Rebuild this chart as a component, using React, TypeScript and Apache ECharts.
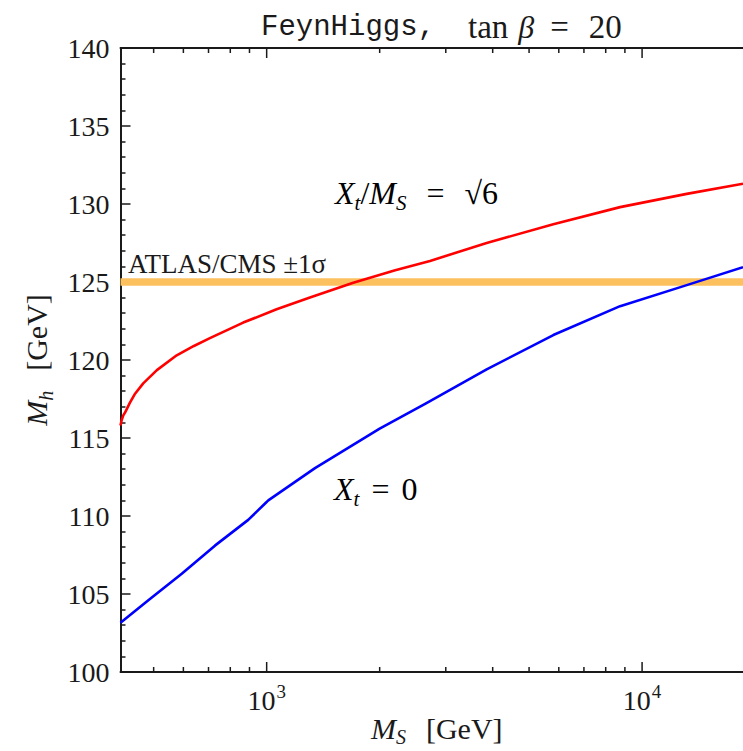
import React, { useEffect, useRef } from 'react';
import * as echarts from 'echarts';

// ---- data ----
const X_MIN = 408;
const X_MAX = 18570;
const Y_MIN = 100;
const Y_MAX = 140;
const Y_STEP = 5;

const xMajorTicks = [1000, 10000];
const xMinorTicks = [500, 600, 700, 800, 900, 2000, 3000, 4000, 5000, 6000, 7000, 8000, 9000];

// Xt/MS = sqrt(6)
const redMS = [408, 411, 415, 420, 424, 432, 445, 469, 510, 576, 640, 706, 866, 1063, 1304, 1701, 2200, 2723, 3855, 5802, 8738, 13150, 18570];
const redMh = [115.8, 116.15, 116.45, 116.65, 116.85, 117.25, 117.8, 118.5, 119.35, 120.3, 120.9, 121.4, 122.4, 123.25, 124.0, 124.95, 125.75, 126.35, 127.5, 128.7, 129.8, 130.65, 131.3];

// Xt = 0
const blueMS = [408, 484, 594, 728, 893, 995, 1010, 1345, 2000, 2650, 3855, 5802, 8738, 13150, 18570];
const blueMh = [103.15, 104.6, 106.3, 108.1, 109.75, 110.85, 111.0, 113.07, 115.6, 117.2, 119.4, 121.6, 123.45, 124.8, 125.95];

// ATLAS/CMS band
const bandCenter = 125;
const bandHalfWidth = 0.24;

// ---- styles ----
const SERIF = "'Liberation Serif', 'Times New Roman', serif";
const MONO = "'Liberation Mono', 'DejaVu Sans Mono', monospace";
const INK = '#1a1a1a';

const mathRich = (size: number, sub: number, gap: number) => ({
  i: { fontFamily: SERIF, fontStyle: 'italic', fontWeight: 'normal', fontSize: size, color: INK, lineHeight: size + 5, verticalAlign: 'top' },
  r: { fontFamily: SERIF, fontWeight: 'normal', fontSize: size, color: INK, lineHeight: size + 5, verticalAlign: 'top' },
  g: { fontFamily: SERIF, fontSize: size, lineHeight: size + 5, width: gap, verticalAlign: 'top' },
  s: {
    fontFamily: SERIF, fontStyle: 'italic', fontWeight: 'normal', fontSize: sub, color: INK,
    lineHeight: sub, padding: [size + 5 - sub - 1, 0, 0, 0], verticalAlign: 'top',
  },
});

export default function App() {
  const ref = useRef<HTMLDivElement>(null);

  useEffect(() => {
    if (!ref.current) return;
    const chart = echarts.init(ref.current, null, { renderer: 'svg' });

    const xTickData = [
      ...xMajorTicks.map((v) => [v, 1]),
      ...xMinorTicks.map((v) => [v, 0]),
    ];

    const xCommon: any = {
      type: 'log',
      logBase: 10,
      min: X_MIN,
      max: X_MAX,
      axisLine: { show: true, lineStyle: { color: INK, width: 2 } },
      axisTick: { show: false },
      minorTick: { show: false },
      splitLine: { show: false },
      minorSplitLine: { show: false },
    };

    const option: any = {
      animation: false,
      backgroundColor: '#ffffff',
      textStyle: { fontFamily: SERIF, color: INK },
      title: {
        text: '{tt|FeynHiggs,}{r|tan}{it|β}{e|=}{r|20}',
        left: 256,
        top: 4,
        textStyle: {
          fontWeight: 'normal',
          rich: {
            tt: { fontFamily: MONO, fontWeight: 'normal', fontSize: 29, color: INK, width: 207, lineHeight: 36 },
            r: { fontFamily: SERIF, fontWeight: 'normal', fontSize: 33, color: INK, lineHeight: 36 },
            it: { fontFamily: SERIF, fontWeight: 'normal', fontStyle: 'italic', fontSize: 32, color: INK, lineHeight: 36, padding: [0, 16, 0, 10] },
            e: { fontFamily: SERIF, fontWeight: 'normal', fontSize: 33, color: INK, lineHeight: 36, padding: [0, 20, 0, 0] },
          },
        },
      },
      grid: { left: 120.5, right: 0, top: 48, bottom: 79, outerBoundsMode: 'none' },
      xAxis: [
        {
          ...xCommon,
          position: 'bottom',
          axisLabel: {
            margin: 10,
            fontFamily: SERIF,
            formatter: (v: number) => {
              const e = Math.log10(v);
              const r = Math.round(e);
              return Math.abs(e - r) < 1e-6 ? `{b|10}{s|${r}}` : '';
            },
            rich: {
              b: { fontFamily: SERIF, fontSize: 28, color: INK, lineHeight: 32, verticalAlign: 'bottom' },
              s: { fontFamily: SERIF, fontSize: 19, color: INK, lineHeight: 20, padding: [0, 0, 13, 1], verticalAlign: 'bottom' },
            },
          },
          name: '{i|M}{s|S}{g| }{r|[GeV]}',
          nameLocation: 'middle',
          nameMoveOverlap: false,
          nameGap: 41,
          nameTextStyle: { padding: [0, 0, 0, 10], rich: mathRich(30, 20, 20) },
        },
        {
          ...xCommon,
          position: 'top',
          axisLabel: { show: false },
        },
      ],
      yAxis: {
        type: 'value',
        min: Y_MIN,
        max: Y_MAX,
        interval: Y_STEP,
        axisLine: { show: true, lineStyle: { color: INK, width: 2 } },
        axisTick: { show: true, inside: true, length: 10, lineStyle: { color: INK, width: 1.5 } },
        minorTick: { show: true, splitNumber: 5, length: 5, lineStyle: { color: INK, width: 1.5 } },
        splitLine: { show: false },
        minorSplitLine: { show: false },
        axisLabel: { fontFamily: SERIF, fontSize: 28, color: INK, margin: 11 },
        name: '{i|M}{s|h}{g| }{r|[GeV]}',
        nameLocation: 'middle',
        nameRotate: 90,
        nameGap: 64,
        nameTextStyle: { rich: mathRich(30, 20, 20) },
      },
      graphic: [
        {
          type: 'text',
          x: 335,
          y: 177,
          z: 20,
          style: {
            text: '{i|X}{s|t}{r|/}{i|M}{s|S}{g| }{r|=}{g| }{r|√6}',
            rich: mathRich(32, 21, 20),
          },
        },
        {
          type: 'text',
          x: 334,
          y: 473,
          z: 20,
          style: {
            text: '{i|X}{s|t}{g| }{r|=}{g| }{r|0}',
            rich: mathRich(32, 21, 12),
          },
        },
        {
          type: 'text',
          x: 128,
          y: 264,
          z: 20,
          style: {
            text: 'ATLAS/CMS ±1σ',
            fontFamily: SERIF,
            fontSize: 27,
            fill: INK,
            verticalAlign: 'middle',
          },
        },
      ],
      series: [
        {
          name: 'ATLAS/CMS ±1σ',
          type: 'line',
          data: [],
          z: 1,
          silent: true,
          markArea: {
            silent: true,
            itemStyle: { color: '#fcc05f', opacity: 1 },
            data: [[{ yAxis: bandCenter - bandHalfWidth }, { yAxis: bandCenter + bandHalfWidth }]],
          },
        },
        {
          name: 'Xt/MS = √6',
          type: 'line',
          z: 3,
          data: redMS.map((x, i) => [x, redMh[i]]),
          showSymbol: false,
          smooth: false,
          lineStyle: { color: '#ff0000', width: 2.6, join: 'round' },
        },
        {
          name: 'Xt = 0',
          type: 'line',
          z: 3,
          data: blueMS.map((x, i) => [x, blueMh[i]]),
          showSymbol: false,
          smooth: false,
          lineStyle: { color: '#0000ff', width: 2.6, join: 'round' },
        },
        {
          name: 'x ticks',
          type: 'custom',
          z: 5,
          silent: true,
          clip: false,
          data: xTickData,
          renderItem: (params: any, api: any) => {
            const v = api.value(0);
            const len = api.value(1) === 1 ? 10 : 5;
            const pb = api.coord([v, Y_MIN]);
            const pt = api.coord([v, Y_MAX]);
            return {
              type: 'group',
              children: [
                { type: 'line', shape: { x1: pb[0], y1: pb[1], x2: pb[0], y2: pb[1] - len }, style: { stroke: INK, lineWidth: 1.5 } },
                { type: 'line', shape: { x1: pt[0], y1: pt[1], x2: pt[0], y2: pt[1] + len }, style: { stroke: INK, lineWidth: 1.5 } },
              ],
            };
          },
        },
      ],
    };

    chart.setOption(option);
    return () => chart.dispose();
  }, []);

  return (
    <div
      ref={ref}
      style={{ position: 'absolute', left: 0, top: 0, width: 743, height: 751 }}
    />
  );
}
